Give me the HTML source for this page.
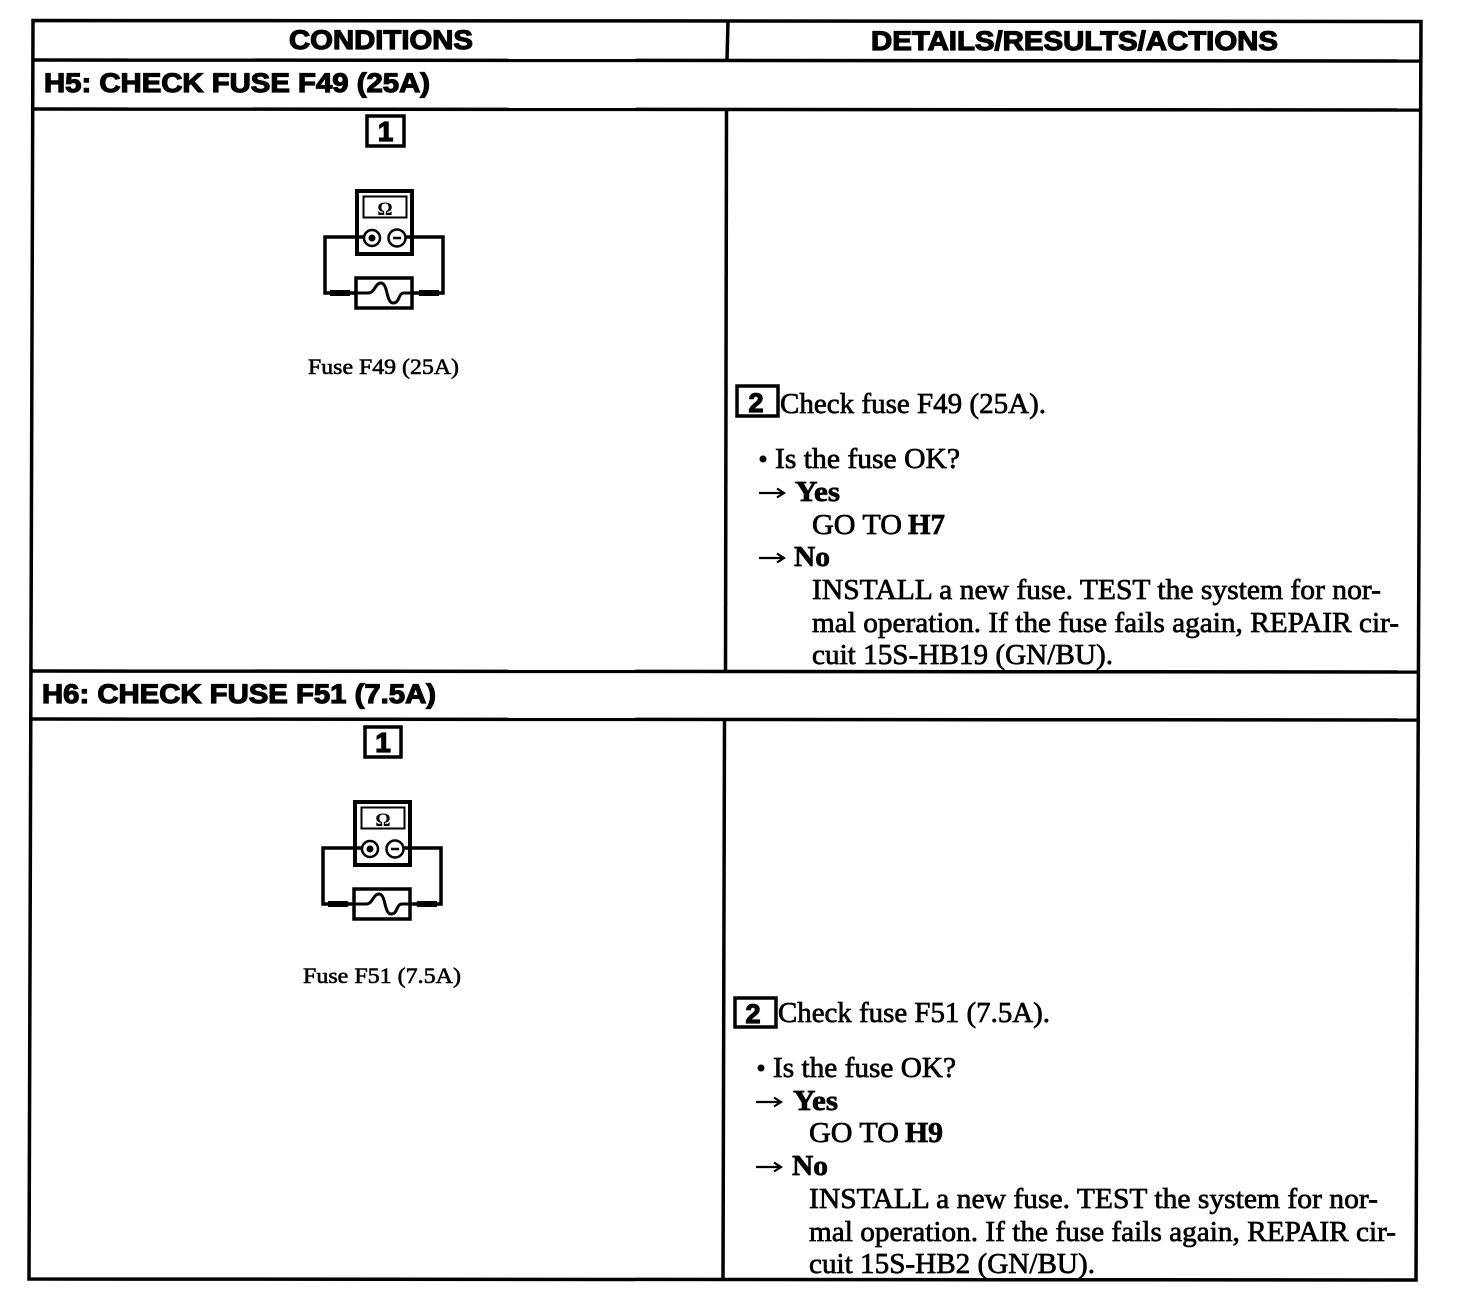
<!DOCTYPE html>
<html><head><meta charset="utf-8"><style>
html,body{margin:0;padding:0;background:#fff}
svg{display:block}
.h{font-family:"Liberation Sans",sans-serif;font-weight:700;fill:#000;stroke:#000;stroke-width:1.2px}
.t{font-family:"Liberation Serif",serif;font-size:29px;fill:#000;stroke:#000;stroke-width:.7px}
.b{font-family:"Liberation Serif",serif;font-weight:700;font-size:29px;fill:#000;stroke:#000;stroke-width:.7px}
.c{font-family:"Liberation Serif",serif;font-size:22px;fill:#000;stroke:#000;stroke-width:.6px}
.l{stroke:#000;fill:none}
</style></head><body>
<svg width="1472" height="1304" viewBox="0 0 1472 1304" xmlns="http://www.w3.org/2000/svg">
<defs>
<g id="icon">
<rect class="l" x="357" y="191" width="55" height="63" stroke-width="4"/>
<rect class="l" x="363.500" y="196.500" width="43" height="21" stroke-width="2"/>
<text x="385" y="215" text-anchor="middle" style="font-family:'Liberation Serif',serif;font-weight:700;font-size:19px">Ω</text>
<circle class="l" cx="372" cy="238" r="8" stroke-width="2.500"/>
<circle cx="372" cy="238" r="3.500"/>
<circle class="l" cx="397" cy="238" r="8.500" stroke-width="2.500"/>
<path class="l" d="M393 238h8" stroke-width="2.500"/>
<path class="l" d="M364 237H325V293H356M406 237H443V293H412" stroke-width="3.500"/>
<path class="l" d="M330 293h20M419 293h20" stroke-width="6"/>
<rect class="l" x="356" y="278" width="56" height="30" stroke-width="3.500"/>
<path class="l" d="M356 293H368C375 293 375 283 381 283C388 283 386 303 393 303C400 303 398 293 404 293H412" stroke-width="3"/>
</g>
<path id="ar" class="l" d="M0 0H25M18 -4.500L25 0L18 4.500" stroke-width="2.200"/>
</defs>
<rect width="1472" height="1304" fill="#fff"/>
<g class="l" stroke-width="3.500">
<path d="M33 20.500L1421 21.500L1416 1280L29 1279Z"/>
<path d="M33 60L1421 61"/>
<path d="M33 109L1420 110"/>
<path d="M31 671L1418 672"/>
<path d="M31 719L1418 720"/>
<path d="M728 21L727 60"/>
<path d="M726.500 110L725.500 671"/>
<path d="M724.500 720L723 1279"/>
</g>

<text class="h" x="289" y="49" font-size="27" textLength="184" lengthAdjust="spacingAndGlyphs">CONDITIONS</text>
<text class="h" x="871" y="50" font-size="27" textLength="407" lengthAdjust="spacingAndGlyphs">DETAILS/RESULTS/ACTIONS</text>
<text class="h" x="44" y="92" font-size="27" textLength="386" lengthAdjust="spacingAndGlyphs">H5: CHECK FUSE F49 (25A)</text>
<text class="h" x="42" y="703" font-size="27" textLength="394" lengthAdjust="spacingAndGlyphs">H6: CHECK FUSE F51 (7.5A)</text>

<!-- H5 left -->
<rect class="l" x="367" y="116" width="37" height="30" stroke-width="3.500"/>
<text class="h" x="385.500" y="141" font-size="28" text-anchor="middle">1</text>
<use href="#icon"/>
<text class="c" x="308" y="374" textLength="151" lengthAdjust="spacingAndGlyphs">Fuse F49 (25A)</text>

<!-- H5 right -->
<rect class="l" x="737" y="386" width="41" height="30" stroke-width="3.500"/>
<text class="h" x="756" y="412" font-size="27" text-anchor="middle">2</text>
<text class="t" x="780" y="413" textLength="266" lengthAdjust="spacingAndGlyphs">Check fuse F49 (25A).</text>
<circle cx="763" cy="459" r="3.500"/>
<text class="t" x="775" y="468" textLength="185" lengthAdjust="spacingAndGlyphs">Is the fuse OK?</text>
<use href="#ar" x="759" y="493"/>
<text class="b" x="795" y="501" textLength="45" lengthAdjust="spacingAndGlyphs">Yes</text>
<text class="t" x="812" y="534" textLength="90" lengthAdjust="spacingAndGlyphs">GO TO</text>
<text class="b" x="908" y="534" textLength="37" lengthAdjust="spacingAndGlyphs">H7</text>
<use href="#ar" x="759" y="558"/>
<text class="b" x="794" y="566" textLength="36" lengthAdjust="spacingAndGlyphs">No</text>
<text class="t" x="812" y="599" textLength="569" lengthAdjust="spacingAndGlyphs">INSTALL a new fuse. TEST the system for nor-</text>
<text class="t" x="812" y="632" textLength="587" lengthAdjust="spacingAndGlyphs">mal operation. If the fuse fails again, REPAIR cir-</text>
<text class="t" x="812" y="664" textLength="301" lengthAdjust="spacingAndGlyphs">cuit 15S-HB19 (GN/BU).</text>

<!-- H6 left -->
<rect class="l" x="365" y="727" width="36" height="30" stroke-width="3.500"/>
<text class="h" x="383" y="752" font-size="28" text-anchor="middle">1</text>
<use href="#icon" transform="translate(-2 611)"/>
<text class="c" x="303" y="983" textLength="158" lengthAdjust="spacingAndGlyphs">Fuse F51 (7.5A)</text>

<!-- H6 right -->
<rect class="l" x="735" y="998" width="41" height="29" stroke-width="3.500"/>
<text class="h" x="753" y="1023" font-size="27" text-anchor="middle">2</text>
<text class="t" x="778" y="1022" textLength="272" lengthAdjust="spacingAndGlyphs">Check fuse F51 (7.5A).</text>
<circle cx="761" cy="1068" r="3.500"/>
<text class="t" x="773" y="1077" textLength="183" lengthAdjust="spacingAndGlyphs">Is the fuse OK?</text>
<use href="#ar" x="756" y="1102"/>
<text class="b" x="793" y="1110" textLength="45" lengthAdjust="spacingAndGlyphs">Yes</text>
<text class="t" x="809" y="1142" textLength="90" lengthAdjust="spacingAndGlyphs">GO TO</text>
<text class="b" x="905" y="1142" textLength="38" lengthAdjust="spacingAndGlyphs">H9</text>
<use href="#ar" x="756" y="1167"/>
<text class="b" x="792" y="1175" textLength="36" lengthAdjust="spacingAndGlyphs">No</text>
<text class="t" x="809" y="1208" textLength="569" lengthAdjust="spacingAndGlyphs">INSTALL a new fuse. TEST the system for nor-</text>
<text class="t" x="809" y="1241" textLength="587" lengthAdjust="spacingAndGlyphs">mal operation. If the fuse fails again, REPAIR cir-</text>
<text class="t" x="809" y="1273" textLength="286" lengthAdjust="spacingAndGlyphs">cuit 15S-HB2 (GN/BU).</text>
</svg>
</body></html>
